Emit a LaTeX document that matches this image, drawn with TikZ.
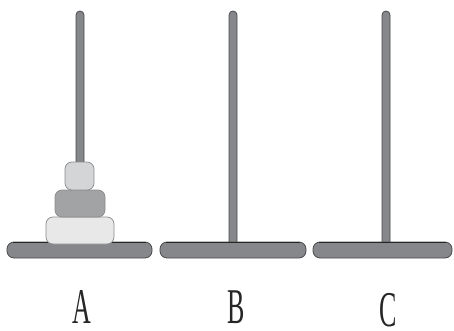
\documentclass[tikz,border=0pt]{standalone}
\usepackage{fontspec}
\setmainfont{Liberation Serif}
\begin{document}
\begin{tikzpicture}[x=1pt,y=-1pt,
  metal/.style={fill=rodgray,draw=rodedge,line width=0.8pt},
  disk/.style={draw=diskedge,line width=0.7pt,rounded corners=7pt},
  lbl/.style={font=\fontsize{50}{50}\selectfont,xscale=0.52,inner sep=0pt,text=black!85}]
\definecolor{rodgray}{HTML}{86878A}
\definecolor{rodedge}{HTML}{4A4B4D}
\definecolor{diskedge}{HTML}{8A8B8D}
\definecolor{diskS}{HTML}{D4D5D7}
\definecolor{diskM}{HTML}{A2A3A5}
\definecolor{diskL}{HTML}{E8E8E9}
\useasboundingbox (0,0) rectangle (454,331);
% rods
\foreach \n/\cx in {A/80,B/233,C/386}{
  \path[metal] (\cx-4,244) -- (\cx-4,15) arc[start angle=180,end angle=360,radius=4] -- (\cx+4,244) -- cycle;
}
% bases
\foreach \n/\l/\r in {A/7/152,B/160/306,C/313/452}{
  \path[metal,rounded corners=7pt] (\l,242) rectangle (\r,258);
  \draw[line width=1.6pt,black!85] (\l+6,242.5) -- (\r-6,242.5);
}
% disks
\node[disk,fill=diskL,minimum width=68pt,minimum height=27pt,inner sep=0pt] (d3) at (80,230.5) {};
\node[disk,fill=diskM,minimum width=50pt,minimum height=27pt,inner sep=0pt] (d2) at (80,203.5) {};
\node[disk,fill=diskS,minimum width=29pt,minimum height=28pt,inner sep=0pt] (d1) at (79.5,176) {};
% labels
\node[lbl] (la) at (82,307) {A};
\node[lbl] (lb) at (236,307) {B};
\node[lbl] (lc) at (388,310) {C};
\end{tikzpicture}
\end{document}
